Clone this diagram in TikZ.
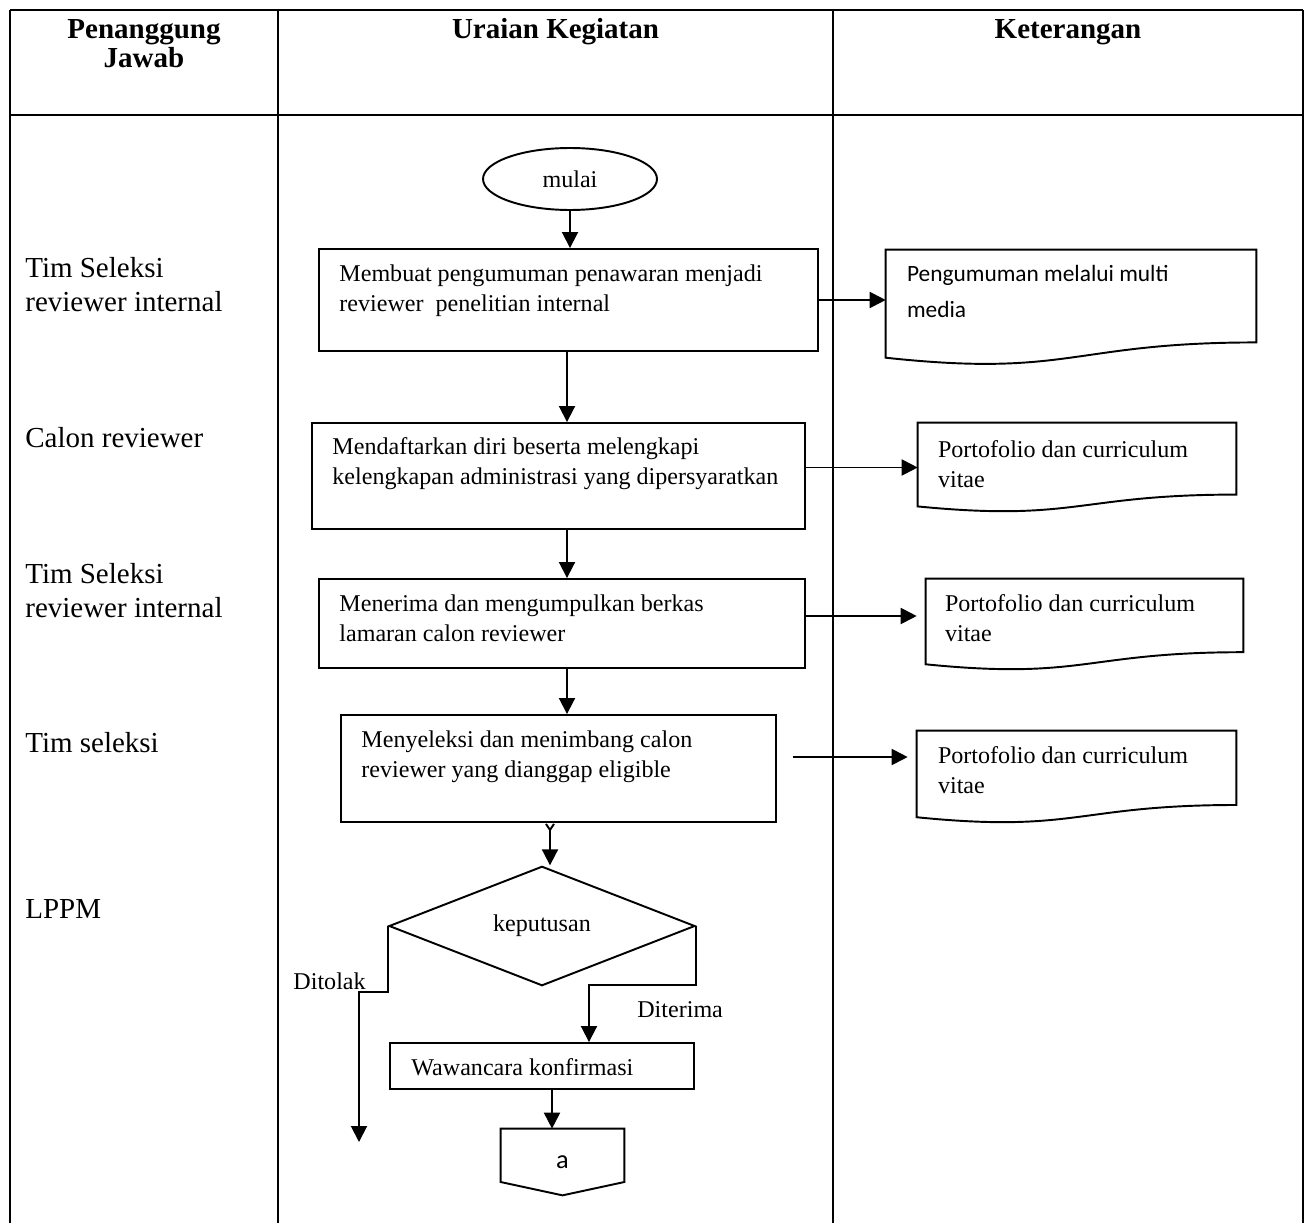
\documentclass[tikz,border=0pt]{standalone}
\usepackage{fontspec}
\setmainfont{Liberation Serif}
\newfontfamily\calibrifont{Carlito}
\usetikzlibrary{arrows.meta,calc,shapes.geometric}

\newcommand\headfont{\fontsize{16.5}{16.8}\selectfont\bfseries}
\newcommand\whofont{\fontsize{16.5}{19.3}\selectfont}
\newcommand\boxfont{\fontsize{13.7}{17}\selectfont}
\newcommand\notefont{\calibrifont\fontsize{13.3}{20.5}\selectfont}

\begin{document}
\begin{tikzpicture}[x=0.02cm, y=-0.02cm, font=\boxfont,
    rule/.style={line width=1.7pt},
    col/.style={line width=1.4pt},
    proc/.style={draw, line width=1.1pt, inner sep=0pt},
    paper/.style={inner sep=0pt},
    % two-line texts sit on the baseline of their last line
    btxt/.style={anchor=base west, align=left, inner sep=0pt, font=\boxfont, xshift=0.42cm, yshift=-1.26cm},
    who/.style={anchor=base west, align=left, inner sep=0pt, font=\whofont},
    head/.style={anchor=base, align=center, inner sep=0pt, font=\headfont},
    arr/.style={line width=1.1pt, -{Triangle[length=0.32cm, width=0.32cm]}}]
\useasboundingbox (0,0) rectangle (1314,1223);

% table frame
\draw[rule] (10,10) -- (1303,10);
\draw[rule] (10,115) -- (1303,115);
\foreach \x in {10,278,833,1303}
    \draw[col] (\x,10) -- (\x,1223);

\node[head] (h1) at (144,68) {Penanggung\\Jawab};
\node[head] (h2) at (555.5,39) {Uraian Kegiatan};
\node[head] (h3) at (1068,39) {Keterangan};

% who does what
\node[who] (w1) at (25,311) {Tim Seleksi\\reviewer internal};
\node[who] (w2) at (25,447) {Calon reviewer};
\node[who] (w3) at (25,617) {Tim Seleksi\\reviewer internal};
\node[who] (w4) at (25,752) {Tim seleksi};
\node[who] (w5) at (25,918) {LPPM};

% flow
\node[proc, ellipse, minimum width=3.48cm, minimum height=1.24cm] (mulai) at (570,179) {mulai};
\node[proc, minimum width=9.98cm, minimum height=2.04cm,
    label={[btxt]north west:Membuat pengumuman penawaran menjadi\\reviewer~ penelitian internal}] (b1) at (568.5,300) {};
\node[proc, minimum width=9.86cm, minimum height=2.12cm,
    label={[btxt, yshift=0.02cm]north west:Mendaftarkan diri beserta melengkapi\\kelengkapan administrasi yang dipersyaratkan}] (b2) at (558.5,476) {};
\node[proc, minimum width=9.72cm, minimum height=1.78cm,
    label={[btxt]north west:Menerima dan mengumpulkan berkas\\lamaran calon reviewer}] (b3) at (562,623.5) {};
\node[proc, minimum width=8.7cm, minimum height=2.14cm,
    label={[btxt]north west:Menyeleksi dan menimbang calon\\reviewer yang dianggap eligible}] (b4) at (558.5,768.5) {};
\node[proc, diamond, minimum width=6.12cm, minimum height=2.32cm] (dec) at (542,926) {keputusan};
\node[proc, minimum width=6.08cm, minimum height=0.92cm,
    label={[btxt, xshift=0.02cm, yshift=0.6cm]north west:Wawancara konfirmasi}] (b5) at (542,1066) {};
\node[paper, minimum width=2.46cm, minimum height=1.32cm, font=\calibrifont\fontsize{15}{18}\selectfont] (conn) at (562.5,1162) {a};
\draw[line width=1.1pt] (conn.north west) -- (conn.north east) -- ($(conn.north east)!.8!(conn.south east)$)
    -- (conn.south) -- ($(conn.north west)!.8!(conn.south west)$) -- cycle;

% documents
\node[paper, minimum width=7.4cm, minimum height=2.3cm,
    label={[btxt, font=\notefont, yshift=-0.1cm]north west:Pengumuman melalui multi\\media}] (doc1) at (1071,307.5) {};
\node[paper, minimum width=6.36cm, minimum height=1.78cm,
    label={[btxt, xshift=-0.02cm, yshift=-0.04cm]north west:Portofolio dan curriculum\\vitae}] (doc2) at (1077,467.5) {};
\node[paper, minimum width=6.34cm, minimum height=1.82cm,
    label={[btxt, xshift=-0.04cm]north west:Portofolio dan curriculum\\vitae}] (doc3) at (1084.5,624.5) {};
\node[paper, minimum width=6.38cm, minimum height=1.84cm,
    label={[btxt]north west:Portofolio dan curriculum\\vitae}] (doc4) at (1076.5,777) {};
\foreach \d in {doc1,doc2,doc3,doc4}
    \draw[line width=1.1pt] (\d.north west) -- (\d.north east) -- ($(\d.north east)!.802!(\d.south east)$)
        .. controls ($(\d.north)!.802!(\d.south)$) and ($(\d.north)!1.1075!(\d.south)$)
        .. ($(\d.north west)!.934!(\d.south west)$) -- cycle;

% connectors
\coordinate (spine) at (567,0);
\coordinate (rej) at (359,1142);
\draw[arr] (mulai.south) -- (mulai.south |- b1.north);
\draw[arr] (b1.south -| spine) -- (b2.north -| spine);
\draw[arr] (b2.south -| spine) -- (b3.north -| spine);
\draw[arr] (b3.south -| spine) -- (b4.north -| spine);
\draw[line width=1.1pt, {Straight Barb[reversed, length=0.12cm, width=0.16cm]}-{Triangle[length=0.32cm, width=0.32cm]}]
    ([xshift=0.16cm]b4.south -| dec.north) -- ([xshift=0.16cm]dec.north);

\draw[arr] (b1.east) -- (b1.east -| doc1.west);
\draw[arr] (b2.east |- doc2.west) -- (doc2.west);
\draw[arr, shorten >=0.18cm] ([yshift=0.15cm]b3.east) -- ([yshift=0.15cm]b3.east -| doc3.west);
\draw[arr, shorten >=0.18cm] ([xshift=0.32cm,yshift=0.23cm]b4.east) -- ([yshift=0.23cm]b4.east -| doc4.west);

\draw[arr] (dec.west) -- ++(0,66) -| (rej);
\node[anchor=base east, inner sep=0pt] (tolak) at (366,989) {Ditolak};
\draw[arr] (dec.east) -- ++(0,59) -| ([xshift=0.94cm]b5.north);
\node[anchor=base west, inner sep=0pt] (terima) at (637,1017) {Diterima};
\draw[arr] ([xshift=0.2cm]b5.south) -- ([xshift=0.2cm]b5.south |- conn.north);
\end{tikzpicture}
\end{document}
